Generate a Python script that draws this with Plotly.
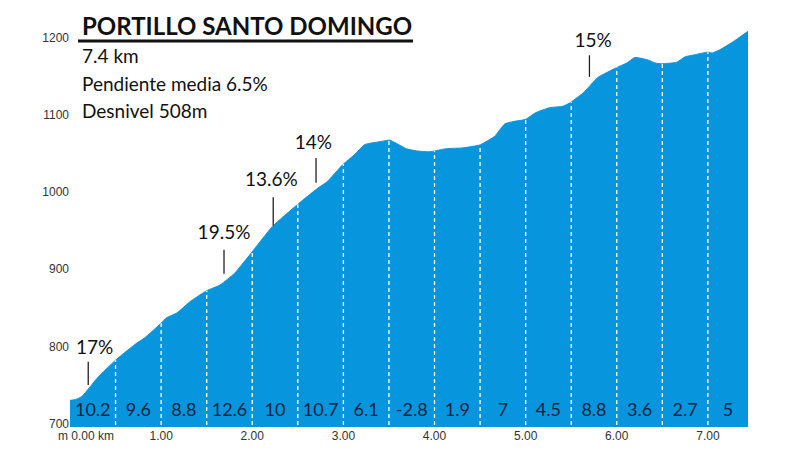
import numpy as np
import plotly.graph_objects as go

# perfil de la subida
km = [0.0, 0.06, 0.13, 0.21, 0.30, 0.49, 0.57, 0.73, 0.82, 1.00, 1.06, 1.17, 1.33, 1.50, 1.64, 1.73, 1.81, 1.88, 1.99,
      2.22, 2.49, 2.71, 2.82, 2.99, 3.12, 3.23, 3.29, 3.40, 3.51, 3.58, 3.69, 3.81, 3.95, 4.00, 4.13, 4.31, 4.50,
      4.66, 4.77, 4.86, 5.00, 5.10, 5.26, 5.41, 5.48, 5.63, 5.79, 6.00, 6.11, 6.20, 6.34, 6.42, 6.49, 6.66, 6.75,
      6.83, 7.00, 7.05, 7.13, 7.27, 7.44]
altitud = [730, 731, 735, 746, 759, 781, 789, 804, 811, 830, 837, 843, 859, 872, 879, 887, 895, 905, 921,
           955, 983, 1004, 1013, 1035, 1048, 1061, 1063, 1065, 1067, 1063, 1056, 1053, 1052, 1053, 1056, 1057, 1061,
           1072, 1088, 1091, 1094, 1102, 1109, 1111, 1115, 1128, 1148, 1161, 1167, 1174, 1171, 1167, 1166, 1168, 1175,
           1177, 1181, 1180, 1184, 1194, 1208]

# pendiente media de cada tramo de 500 m
pendientes = ["10.2", "9.6", "8.8", "12.6", "10", "10.7", "6.1", "-2.8", "1.9", "7", "4.5", "8.8", "3.6", "2.7", "5"]
tramos_centro = [0.25, 0.75, 1.25, 1.75, 2.25, 2.75, 3.25, 3.75, 4.25, 4.75, 5.25, 5.75, 6.25, 6.75, 7.22]
divisiones = [0.5, 1.0, 1.5, 2.0, 2.5, 3.0, 3.5, 4.0, 4.5, 5.0, 5.5, 6.0, 6.5, 7.0]

# rampas maximas
rampas = ["17%", "19.5%", "13.6%", "14%", "15%"]
rampas_km = [0.20, 1.69, 2.23, 2.70, 5.70]
rampas_texto_km = [0.27, 1.69, 2.21, 2.67, 5.74]
rampas_texto_alt = [796, 945, 1014, 1062, 1194]
rampas_desde = [750, 894, 956, 1012, 1149]
rampas_hasta = [780, 925, 993, 1044, 1177]

y_ticks = [700, 800, 900, 1000, 1100, 1200]
x_ticks = [1, 2, 3, 4, 5, 6, 7]
x_ticks_texto = ["1.00", "2.00", "3.00", "4.00", "5.00", "6.00", "7.00"]

titulo = "PORTILLO SANTO DOMINGO"
datos_subida = ["7.4 km", "Pendiente media 6.5%", "Desnivel 508m"]

AZUL = "#0796dd"
FUENTE = "Lato"

fig = go.Figure()

fig.add_trace(go.Scatter(x=km, y=altitud, mode="lines", fill="tozeroy", fillcolor=AZUL,
                         line=dict(color=AZUL, width=1, shape="spline", smoothing=0.5), hoverinfo="skip"))

# lineas blancas cada 500 m hasta el perfil
for d in divisiones:
    fig.add_trace(go.Scatter(x=[d, d], y=[0, np.interp(d, km, altitud)], mode="lines",
                             line=dict(color="white", width=1.3, dash="4px,3px"), hoverinfo="skip"))

fig.add_trace(go.Scatter(x=tramos_centro, y=[715] * len(pendientes), mode="text", text=pendientes,
                         textposition="middle center", textfont=dict(family=FUENTE, size=18, color="#0a2540"),
                         hoverinfo="skip"))

for i in range(len(rampas)):
    fig.add_trace(go.Scatter(x=[rampas_km[i], rampas_km[i]], y=[rampas_desde[i], rampas_hasta[i]], mode="lines",
                             line=dict(color="#222222", width=1.3), hoverinfo="skip"))

fig.add_trace(go.Scatter(x=rampas_texto_km, y=rampas_texto_alt, mode="text", text=rampas,
                         textposition="middle center", textfont=dict(family=FUENTE, size=19, color="#111111"),
                         hoverinfo="skip"))

# titulo y datos arriba a la izquierda (en pixeles de la imagen)
def px_x(p):
    return (p - 70) / 678

def px_y(p):
    return 1 - (p - 10) / 417

fig.add_annotation(x=px_x(80), y=px_y(25), xref="paper", yref="paper", text="<b>" + titulo + "</b>", showarrow=False,
                   xanchor="left", yanchor="middle", font=dict(family=FUENTE, size=24, color="#111111"))
fig.add_shape(type="line", xref="paper", yref="paper", x0=px_x(78), x1=px_x(413), y0=px_y(41), y1=px_y(41),
              line=dict(color="#111111", width=3))
for texto, p in zip(datos_subida, [56, 83, 110]):
    fig.add_annotation(x=px_x(80), y=px_y(p), xref="paper", yref="paper", text=texto, showarrow=False,
                       xanchor="left", yanchor="middle", font=dict(family=FUENTE, size=19, color="#111111"))

fig.add_annotation(x=px_x(56), y=px_y(436), xref="paper", yref="paper", text="m 0.00 km", showarrow=False,
                   xanchor="left", yanchor="middle", font=dict(family="Liberation Sans", size=12, color="#333333"))

fig.update_layout(width=800, height=450, showlegend=False, plot_bgcolor="white", paper_bgcolor="white",
                  margin=dict(l=70, r=52, t=10, b=23, autoexpand=False))
fig.update_xaxes(range=[0, 7.44], tickvals=x_ticks, ticktext=x_ticks_texto, showgrid=False, zeroline=False,
                 ticks="", showline=False, automargin=False,
                 tickfont=dict(family="Liberation Sans", size=12, color="#333333"))
fig.update_yaxes(range=[695.5, 1235.6], tickvals=y_ticks, showgrid=False, zeroline=False, ticks="", showline=False,
                 automargin=False, tickfont=dict(family="Liberation Sans", size=12, color="#333333"))

# quita el margen del body para que el grafico empiece en 0,0
fig.write_html("out.html", config={"displayModeBar": False}, post_script="document.body.style.margin='0';")
